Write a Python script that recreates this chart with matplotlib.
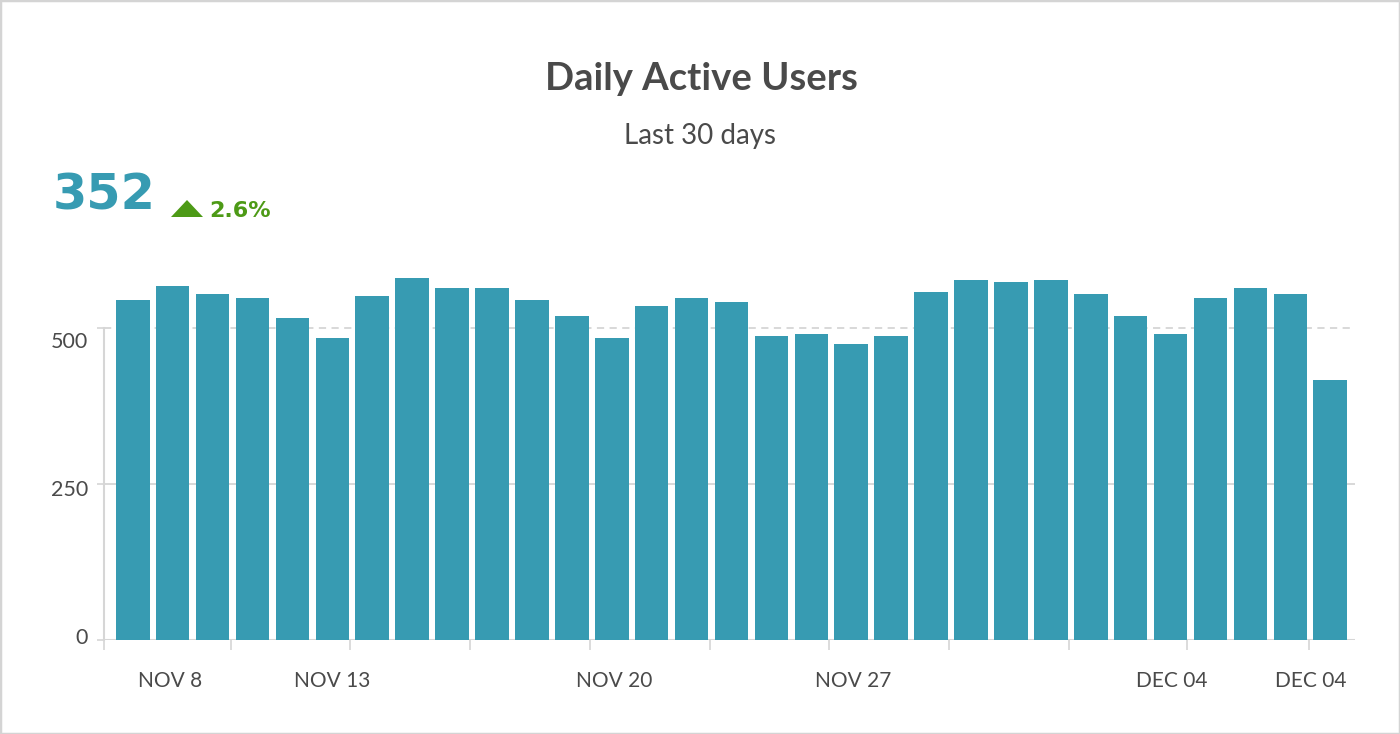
import matplotlib
matplotlib.use("Agg")
import matplotlib.pyplot as plt
from matplotlib.patches import Polygon, Rectangle
from matplotlib.transforms import ScaledTranslation
import numpy as np

# ---- data ----
values = [545, 567, 554, 548, 516, 484, 551, 580, 564, 564, 545, 519, 484, 535, 548, 542,
          487, 490, 474, 487, 558, 577, 574, 577, 554, 519, 490, 548, 564, 554, 417]
x_label_pos = [0.94, 4.99, 12.05, 18.04, 26.03, 29.52]
x_labels = ["NOV 8", "NOV 13", "NOV 20", "NOV 27", "DEC 04", "DEC 04"]
x_tick_marks = [-0.72, 2.45, 5.45, 8.45, 11.45, 14.45, 17.45, 20.45, 23.45, 26.42, 29.47]
y_ticks = [0, 250, 500]
y_labels = ["0", "250", "500"]
title = "Daily Active Users"
subtitle = "Last 30 days"
kpi_value = "352"
kpi_change = "2.6%"

TEAL = "#379bb2"
GREEN = "#4d9a16"
TXT = "#4a4a4a"
GRID = "#d6d6d6"

W, H = 1400, 734
fig = plt.figure(figsize=(W / 100, H / 100), dpi=100)
fig.patch.set_facecolor("white")

def fx(px):
    return px / W

def fy(py):
    return 1 - py / H

# border
fig.patches.append(Rectangle((0, 0), 1, 1, transform=fig.transFigure, fill=False,
                             edgecolor="#d4d4d4", linewidth=2.5, zorder=10))

ax = fig.add_axes([fx(104), fy(640), fx(1355) - fx(104), (600 * 0.624) / H])
xs = np.arange(len(values))
ax.bar(xs, values, width=0.84, color=TEAL, zorder=3)
ax.set_xlim(-0.72, 30.62)
ax.set_ylim(0, 600)

for s in ["top", "right", "left", "bottom"]:
    ax.spines[s].set_visible(False)

# gridlines
ax.axhline(0, color=GRID, lw=1.5, zorder=2)
ax.axhline(250, color=GRID, lw=1.3, zorder=2)
ax.axhline(500, color=GRID, lw=1.3, ls=(0, (4, 3)), zorder=2)
# y axis domain line
ax.plot([-0.72, -0.72], [0, 500], color=GRID, lw=1.5, zorder=2, clip_on=False)

# y ticks
ax.set_yticks(y_ticks)
ax.set_yticklabels(y_labels)
ax.tick_params(axis="y", length=5, width=1.2, color=GRID, pad=6.5, labelsize=15.5,
               labelcolor=TXT)
for lab in ax.get_yticklabels():
    lab.set_family("Lato")

# x ticks: labels as major (no marks), marks as minor
ax.set_xticks(x_label_pos)
ax.set_xticklabels(x_labels)
ax.set_xticks(x_tick_marks, minor=True)
ax.tick_params(axis="x", which="major", length=0, pad=22, labelsize=15, labelcolor=TXT)
ax.tick_params(axis="x", which="minor", length=7, width=1.2, color=GRID)
for lab in ax.get_xticklabels():
    lab.set_family("Lato")

# vertical nudges of y labels (pixels, + = down)
y_label_shift = {0: -4, 250: 4, 500: 12}
for tick, val in zip(ax.yaxis.get_major_ticks(), y_ticks):
    lab = tick.label1
    lab.set_transform(lab.get_transform() +
                      ScaledTranslation(0, -y_label_shift[val] / 100, fig.dpi_scale_trans))

# titles
fig.text(fx(701), fy(90), title, ha="center", va="baseline", fontsize=27.5,
         fontweight="bold", family="Lato", color=TXT)
fig.text(fx(700), fy(144), subtitle, ha="center", va="baseline", fontsize=20,
         family="Lato", color=TXT)

# KPI
fig.text(fx(53), fy(210), kpi_value, ha="left", va="baseline", fontsize=35.5,
         fontweight="bold", family="DejaVu Sans", color=TEAL)
tri = Polygon([[fx(171), fy(217)], [fx(203), fy(217)], [fx(187), fy(200)]],
              closed=True, transform=fig.transFigure, facecolor=GREEN, edgecolor="none")
fig.patches.append(tri)
fig.text(fx(209), fy(217), kpi_change, ha="left", va="baseline", fontsize=16,
         fontweight="bold", family="DejaVu Sans", color=GREEN)

fig.savefig("out.png", dpi=100, facecolor="white")
